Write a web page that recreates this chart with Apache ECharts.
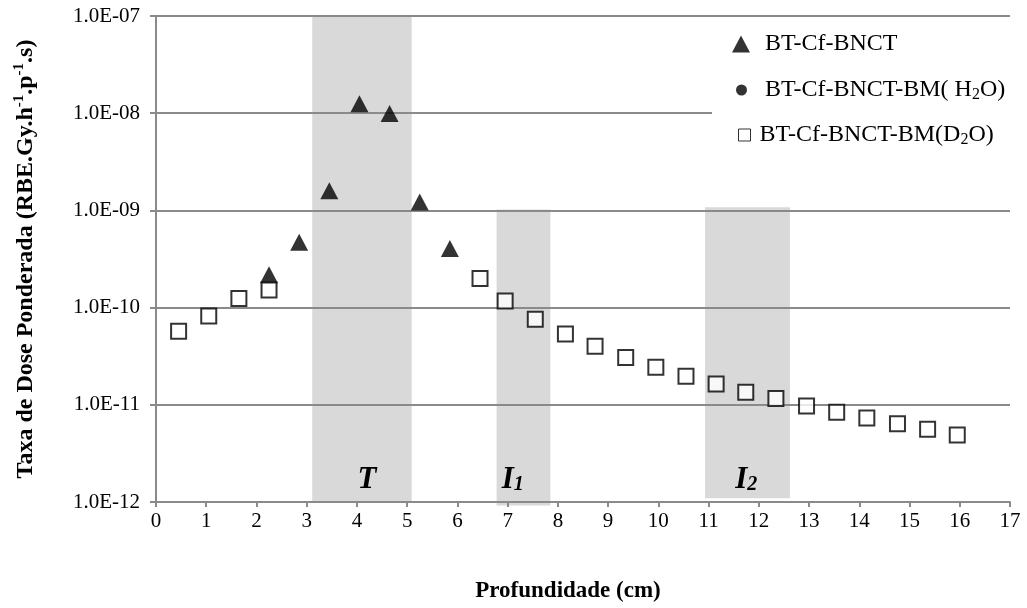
<!DOCTYPE html>
<html>
<head>
<meta charset="utf-8">
<script src="https://cdn.jsdelivr.net/npm/echarts@6/dist/echarts.min.js"></script>
<style>
  html, body { margin: 0; padding: 0; background: #fff; }
  #chart { width: 1027px; height: 608px; }
</style>
</head>
<body>
<div id="chart"></div>
<script>
// Weighted dose rate vs depth
const depthD2O = [0.45, 1.05, 1.65, 2.25, 6.45, 6.95, 7.55, 8.15, 8.74, 9.35, 9.95, 10.55, 11.15, 11.74, 12.34, 12.95, 13.55, 14.15, 14.76, 15.36, 15.95];
const doseD2O = [5.7e-11, 8.2e-11, 1.24e-10, 1.52e-10, 1.99e-10, 1.17e-10, 7.6e-11, 5.35e-11, 4.0e-11, 3.06e-11, 2.44e-11, 1.97e-11, 1.64e-11, 1.35e-11, 1.16e-11, 9.7e-12, 8.4e-12, 7.3e-12, 6.4e-12, 5.6e-12, 4.9e-12];

const depthBNCT = [2.25, 2.85, 3.45, 4.05, 4.65, 5.25, 5.85];
const doseBNCT = [2.18e-10, 4.7e-10, 1.59e-9, 1.25e-8, 9.9e-9, 1.22e-9, 4.06e-10];

const depthH2O = [];
const doseH2O = [];

const seriesNames = ['BT-Cf-BNCT', 'BT-Cf-BNCT-BM( H2O)', 'BT-Cf-BNCT-BM(D2O)'];

// Shaded zones: tumour (T) and interfaces (I1, I2)
const zoneLabels = ['T', 'I1', 'I2'];
const zoneStart = [3.11, 6.78, 10.93];
const zoneEnd = [5.09, 7.85, 12.62];
const zoneTop = [1e-7, 1.02e-9, 1.08e-9];
const zoneBottom = [1e-12, 9.2e-13, 1.09e-12];
const zoneLabelX = [4.2, 7.1, 11.75];

const xMin = 0, xMax = 17, xStep = 1;
const yMin = 1e-12, yMax = 1e-7;

const FONT = 'Liberation Serif';
const GRAY = '#8a8a8a';

const pairs = (xs, ys) => xs.map((x, i) => [x, ys[i]]);

function expLabel(v) {
  const e = Math.round(Math.log10(v));
  const m = v / Math.pow(10, e);
  const sign = e < 0 ? '-' : '+';
  const a = Math.abs(e);
  return m.toFixed(1) + 'E' + sign + (a < 10 ? '0' + a : a);
}

function legendText(name) {
  return name.replace(/([HD])2O/, '$1{sub|2}O');
}

const legendTextStyle = {
  fontFamily: FONT, fontSize: 24, color: '#000', lineHeight: 26,
  rich: { sub: { fontFamily: FONT, fontSize: 16, color: '#000', verticalAlign: 'bottom', lineHeight: 16 } }
};

const chart = echarts.init(document.getElementById('chart'), null, { renderer: 'canvas' });

const option = {
  animation: false,
  backgroundColor: '#fff',
  grid: { left: 156, right: 17, top: 16, bottom: 103, containLabel: false },
  xAxis: {
    type: 'value', min: xMin, max: xMax, interval: xStep, z: 1,
    name: 'Profundidade (cm)', nameLocation: 'middle', nameGap: 77,
    nameTextStyle: { fontFamily: FONT, fontWeight: 'bold', fontSize: 23, color: '#000', lineHeight: 24, padding: [0, 30, 0, 0] },
    axisLine: { show: true, lineStyle: { color: GRAY, width: 2 } },
    axisTick: { show: true, length: 5, lineStyle: { color: GRAY, width: 2 } },
    axisLabel: { fontFamily: FONT, fontSize: 21, color: '#000', margin: 9 },
    splitLine: { show: false }
  },
  yAxis: {
    type: 'log', logBase: 10, min: yMin, max: yMax, z: 1,
    name: 'Taxa de Dose Ponderada (RBE.Gy.h{sup|-1}.p{sup|-1}.s)',
    nameLocation: 'middle', nameGap: 116, nameRotate: 90,
    nameTextStyle: {
      fontFamily: FONT, fontWeight: 'bold', fontSize: 24, color: '#000', lineHeight: 28,
      rich: { sup: { fontFamily: FONT, fontWeight: 'bold', fontSize: 15, color: '#000', verticalAlign: 'top', lineHeight: 16 } }
    },
    axisLine: { show: true, lineStyle: { color: GRAY, width: 2 } },
    axisTick: { show: true, length: 6, lineStyle: { color: GRAY, width: 2 } },
    axisLabel: { fontFamily: FONT, fontSize: 21, color: '#000', margin: 16, formatter: expLabel },
    splitLine: { show: true, lineStyle: { color: GRAY, width: 2 } },
    minorTick: { show: false }
  },
  graphic: [
    { type: 'rect', z: 50, shape: { x: 712, y: 24, width: 298, height: 134 }, style: { fill: '#fff' } }
  ],
  legend: [
    {
      z: 60, left: 727, top: 26, orient: 'vertical', itemWidth: 18, itemHeight: 17,
      data: [{ name: seriesNames[0], icon: 'triangle' }],
      formatter: legendText, textStyle: Object.assign({}, legendTextStyle, { padding: [0, 0, 0, 10] })
    },
    {
      z: 60, left: 731, top: 72, orient: 'vertical', itemWidth: 11, itemHeight: 11,
      data: [{ name: seriesNames[1], icon: 'circle' }],
      formatter: legendText, textStyle: Object.assign({}, legendTextStyle, { padding: [0, 0, 0, 13] })
    },
    {
      z: 60, left: 733, top: 117, orient: 'vertical', itemWidth: 12, itemHeight: 12,
      data: [{ name: seriesNames[2], icon: 'rect' }],
      itemStyle: { color: '#fff', borderColor: '#000', borderWidth: 1 },
      formatter: legendText, textStyle: Object.assign({}, legendTextStyle, { padding: [0, 0, 0, 4] })
    }
  ],
  series: [
    {
      type: 'custom', name: 'zones', z: 0, silent: true, clip: false,
      data: zoneLabels.map((n, i) => [zoneStart[i], zoneEnd[i], zoneTop[i], zoneBottom[i], zoneLabelX[i], i]),
      encode: { x: [0, 1], y: [2, 3] },
      renderItem: function (params, api) {
        const p0 = api.coord([api.value(0), api.value(2)]);
        const p1 = api.coord([api.value(1), api.value(3)]);
        const base = api.coord([api.value(4), yMin]);
        const i = api.value(5);
        const lab = zoneLabels[i];
        const txt = lab.length > 1 ? '{b|' + lab[0] + '}{s|' + lab.slice(1) + '}' : '{b|' + lab + '}';
        return {
          type: 'group',
          children: [
            { type: 'rect', shape: { x: p0[0], y: p0[1], width: p1[0] - p0[0], height: p1[1] - p0[1] }, style: { fill: '#d9d9d9' } },
            {
              type: 'text', z2: 5,
              style: {
                x: base[0], y: base[1] - 23, text: txt, align: 'center', verticalAlign: 'middle',
                rich: {
                  b: { fontFamily: FONT, fontStyle: 'italic', fontWeight: 'bold', fontSize: 31, fill: '#000', lineHeight: 32, verticalAlign: 'bottom' },
                  s: { fontFamily: FONT, fontStyle: 'italic', fontWeight: 'bold', fontSize: 20, fill: '#000', lineHeight: 18, verticalAlign: 'bottom' }
                }
              }
            }
          ]
        };
      }
    },
    {
      type: 'scatter', name: seriesNames[0], z: 3, symbol: 'triangle', symbolSize: [18, 17],
      itemStyle: { color: '#000' },
      data: pairs(depthBNCT, doseBNCT)
    },
    {
      type: 'scatter', name: seriesNames[1], z: 3, symbol: 'circle', symbolSize: 11,
      itemStyle: { color: '#000' },
      data: pairs(depthH2O, doseH2O)
    },
    {
      type: 'scatter', name: seriesNames[2], z: 4, symbol: 'rect', symbolSize: 15,
      itemStyle: { color: '#fff', borderColor: '#000', borderWidth: 2 },
      data: pairs(depthD2O, doseD2O)
    }
  ]
};

chart.setOption(option);
</script>
</body>
</html>
